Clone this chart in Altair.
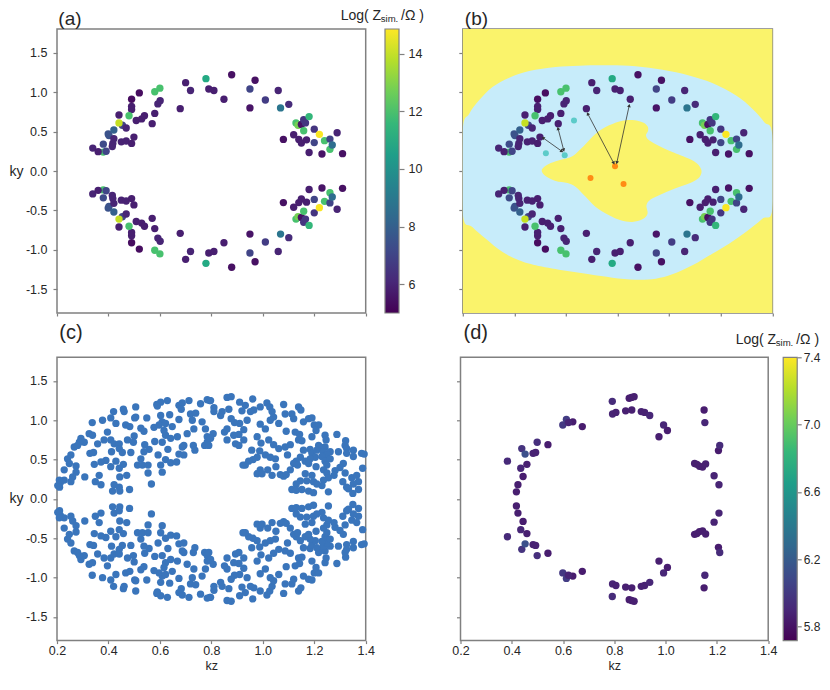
import altair as alt
import pandas as pd

FONT = 'Liberation Sans'
GREY = '#808080'
INK = '#262626'
DOT = 54

# panel (a) and (b): same points
a_kz = [.380, .339, .360, .380, .391, .399, .402, .421, .421, .417, .415, .441, .454, .469, .450, .469, .490, .499,
        .490, .490, .490, .520, .480, .508, .529, .540, .570, .580, .592, .601, .580, .600, .679, .700, .719, .779,
        .790, .810, .849, .879, .950, .950, .970, 1.010, 1.060, 1.069, 1.101, 1.080, 1.120, 1.129, 1.137, 1.150,
        1.159, 1.166, 1.159, 1.180, 1.200, 1.200, 1.240, 1.261, 1.261, 1.270, 1.289, 1.310, 1.230, 1.180, 1.140,
        1.150, 1.170, .441, 1.220]
a_ky_top = [.24, .29, .245, .34, .25, .47, .45, .52, .41, .35, .31, .71, .58, .545, .37, .38, .35, .43,
            .91, .82, .78, .99, .70, .64, .66, .70, .60, .73, .85, .89, 1.005, 1.05, .79, 1.12, 1.02, 1.17,
            1.04, 1.02, .91, 1.22, .80, 1.04, 1.15, .90, 1.02, .80, .845, .40, .46, .61, .58, .59,
            .65, .61, .51, .69, .53, .36, .385, .405, .275, .33, .485, .22, .215, .235, .40,
            .355, .395, .61, .465]
a_ky_bottom = [-.24, -.29, -.245, -.34, -.25, -.47, -.45, -.52, -.41, -.35, -.31, -.71, -.58, -.545, -.37, -.38, -.35, -.43,
               -.91, -.82, -.78, -.99, -.70, -.64, -.66, -.70, -.60, -.73, -.85, -.89, -1.005, -1.05, -.79, -1.12, -1.02, -1.17,
               -1.04, -1.02, -.91, -1.22, -.80, -1.04, -1.15, -.90, -1.02, -.80, -.845, -.40, -.46, -.61, -.58, -.59,
               -.65, -.61, -.51, -.69, -.53, -.36, -.385, -.405, -.275, -.33, -.485, -.22, -.215, -.235, -.40,
               -.355, -.395, -.61, -.465]
a_z = [12, 6.0, 5.8, 7.2, 7, 7.5, 7.5, 8, 6, 6, 6, 5.8, 7, 6, 5.9, 5.9, 5.8, 5.8,
       5.3, 5.8, 5.8, 5.3, 12, 5.8, 5.8, 5.8, 5.8, 5.8, 6, 6, 12, 12, 5.8, 5.8, 6, 11,
       5.8, 5.8, 5.8, 5.4, 5.5, 7, 5.4, 6.7, 6, 8.8, 6.2, 5.4, 5.8, 12, 12.8, 5.4,
       6.5, 6.5, 12, 11.5, 6.5, 7, 12, 7, 12, 8.5, 6, 5.4, 5.5, 5.8, 5.8,
       5.8, 5.8, 14, 14.8]

# extra points of (b)
b_teal_kz = [.631, .522, .595]
b_teal_ky = [.64, .225, .20]
b_orange_kz = [.790, .695, .823]
b_orange_ky = [.06, -.09, -.165]
arrow_kz = [.684, .845, .511, .569]
arrow_ky = [.727, .83, .42, .54]
arrow_kz2 = [.785, .797, .584, .591]
arrow_ky2 = [.10, .105, .25, .265]
arrow_angle = [332, 12, 305, 345]
arrow_angle2 = [152, 192, 125, 165]

# region outlines of (b)
outer_kz = [.2, .225, .263, .315, .380, .457, .560, .651, .767, .870, .974, 1.077, 1.167, 1.258, 1.322, 1.368, 1.4,
            1.4, 1.361, 1.297, 1.232, 1.167, 1.090, 1.012, .948, .870, .780, .690, .586, .483, .418, .354, .289, .237, .2]
outer_ky = [.515, .727, .896, 1.065, 1.183, 1.267, 1.318, 1.335, 1.339, 1.327, 1.284, 1.212, 1.115, .959, .790, .621, .452,
            -.477, -.604, -.773, -.921, -1.048, -1.196, -1.310, -1.365, -1.377, -1.352, -1.310, -1.259, -1.196, -1.132, -1.027, -.858, -.710, -.541]
inner_kz = [.506, .515, .541, .580, .612, .638, .677, .715, .767, .819, .857, .896, .916, .918, .910, .922, .961, 1.012, 1.077,
            1.109, 1.125, 1.118, 1.090, 1.038, .974, .929, .912, .916, .896, .857, .812, .767, .715, .677, .638, .606, .560, .522]
inner_ky = [0, .05, .10, .144, .169, .22, .346, .473, .579, .638, .646, .617, .566, .507, .452, .389, .317, .241, .156,
            .093, .008, -.076, -.139, -.203, -.287, -.359, -.435, -.541, -.613, -.646, -.625, -.562, -.456, -.330, -.203, -.152, -.127, -.068]

# panel (c)
c_kz = [.210, .213, .228, .203, .209, .228, .241, .254, .248, .274, .274, .261, .254, .308, .337, .377, .420, .409, .429, .458,
        .461, .506, .502, .506, .549, .467, .483, .526, .538, .396, .325, .338, .293, .306, .287, .267, .280, .358, .383, .409,
        .422, .442, .474, .500, .497, .442, .454, .487, .541, .558, .538, .580, .593, .526, .513, .532, .554, .554, .567, .603,
        .609, .622, .642, .665, .674, .693, .631, .609, .622, .642, .668, .693, .687, .730, .736, .774, .784, .412, .390, .371,
        .429, .458, .442, .409, .471, .444, .364, .349, .371, .422, .442, .416, .444, .482, .345, .328, .342, .588, .603, .629,
        .590, .674, .687, .713, .683, .758, .784, .794, .603, .609, .597, .577, .638, .674, .719, .739, .726, .764, .777, .732,
        .706, .648, .622, .616, .784, .790, .861, .877, .961, .910, .932, .919, .868, .842, .836, .810, .810, .797, .965, .990,
        1.016, 1.027, 1.081, 1.036, 1.042, 1.087, 1.113, 1.139, 1.148, 1.120, 1.062, 1.029, .952, .939, .910, .890, .877, .926, .907, .861,
        .851, .887, .861, .894, .926, .907, .807, .797, .990, 1.010, .978, .993, 1.023, 1.042, 1.062, 1.107, 1.087, 1.096, .957, .988,
        1.010, 1.029, 1.049, .978, .962, .945, .932, .923, 1.051, 1.019, .990, .978, .997, 1.036, 1.068, 1.081, 1.091, 1.107, 1.091, 1.126,
        1.143, 1.139, 1.152, 1.191, 1.158, 1.178, 1.191, 1.200, 1.217, 1.207, 1.242, 1.246, 1.288, 1.322, 1.320, 1.326, 1.242, 1.217, 1.230, 1.184,
        1.158, 1.191, 1.210, 1.236, 1.262, 1.249, 1.230, 1.204, 1.184, 1.146, 1.130, 1.120, 1.135, 1.165, 1.178, 1.207, 1.242, 1.262, 1.249, 1.294,
        1.326, 1.352, 1.352, 1.384, 1.394, 1.313, 1.300, 1.320, 1.388, 1.236, 1.249, 1.281, 1.277, 1.255, 1.236, 1.230, 1.165, 1.191, 1.171, 1.197,
        1.210, 1.146, 1.130, 1.113, 1.130, 1.152, 1.178, 1.197, 1.255, 1.311, 1.326, 1.346, 1.365, 1.372, 1.352, 1.333, 1.372, 1.350]
c_ky_top = [.15, .21, .24, .17, .24, .37, .51, .56, .45, .42, .34, .28, .22, .28, .97, 1.00, 1.11, 1.03, .96, 1.14,
            1.11, 1.17, 1.03, 1.04, 1.03, .94, .92, .90, .86, .85, .83, .81, .77, .72, .72, .66, .68, .70, .75, .75,
            .70, .70, .75, .80, .72, .64, .59, .59, .69, .63, .60, .73, .56, .51, .43, .43, .43, .33, .19, .43,
            .34, .50, .46, .47, .57, .56, .63, .72, .81, .77, .79, .68, .66, .68, .62, .68, .72, .60, .49, .47,
            .48, .44, .39, .41, .30, .28, .30, .22, .18, .18, .15, .10, .10, .12, .44, .58, .59, 1.20, 1.23, 1.25,
            1.18, 1.19, 1.22, 1.25, 1.14, 1.21, 1.26, 1.25, 1.06, .98, .94, .91, 1.07, 1.01, 1.08, 1.09, 1.00, .98, .89, .89,
            .83, .92, .96, .87, .79, .68, 1.29, 1.30, 1.27, 1.23, 1.19, 1.12, 1.14, 1.11, 1.06, 1.16, 1.11, 1.25, 1.13, 1.17,
            1.22, 1.17, 1.20, 1.11, 1.04, 1.08, 1.08, 1.17, 1.13, 1.02, .96, 1.00, 1.11, 1.00, .96, .97, 1.02, .88, .82, .89,
            .85, .81, .75, .70, .75, .68, .83, .77, .95, .89, .79, .71, .75, .69, .64, .69, .66, .56, .62, .61,
            .56, .53, .51, .53, .50, .48, .43, .43, .41, .37, .37, .32, .32, .30, .31, .29, .31, .37, .86, .85,
            .82, .75, .74, .79, .98, 1.02, 1.03, .94, .94, .87, .81, .75, .82, .74, .68, .64, .66, .68, .65, .63,
            .62, .58, .62, .60, .60, .56, .54, .53, .51, .53, .48, .45, .43, .48, .45, .41, .48, .51, .43, .60,
            .58, .62, .54, .58, .57, .45, .40, .33, .39, .37, .33, .36, .30, .27, .24, .17, .32, .30, .23, .22,
            .19, .23, .19, .12, .11, .12, .10, .08, .09, .22, .15, .27, .30, .22, .19, .13, .12, .07]
c_ky_bottom = [-.15, -.21, -.24, -.17, -.24, -.37, -.51, -.56, -.45, -.42, -.34, -.28, -.22, -.28, -.97, -1.00, -1.11, -1.03, -.96, -1.14,
               -1.11, -1.17, -1.03, -1.04, -1.03, -.94, -.92, -.90, -.86, -.85, -.83, -.81, -.77, -.72, -.72, -.66, -.68, -.70, -.75, -.75,
               -.70, -.70, -.75, -.80, -.72, -.64, -.59, -.59, -.69, -.63, -.60, -.73, -.56, -.51, -.43, -.43, -.43, -.33, -.19, -.43,
               -.34, -.50, -.46, -.47, -.57, -.56, -.63, -.72, -.81, -.77, -.79, -.68, -.66, -.68, -.62, -.68, -.72, -.60, -.49, -.47,
               -.48, -.44, -.39, -.41, -.30, -.28, -.30, -.22, -.18, -.18, -.15, -.10, -.10, -.12, -.44, -.58, -.59, -1.20, -1.23, -1.25,
               -1.18, -1.19, -1.22, -1.25, -1.14, -1.21, -1.26, -1.25, -1.06, -.98, -.94, -.91, -1.07, -1.01, -1.08, -1.09, -1.00, -.98, -.89, -.89,
               -.83, -.92, -.96, -.87, -.79, -.68, -1.29, -1.30, -1.27, -1.23, -1.19, -1.12, -1.14, -1.11, -1.06, -1.16, -1.11, -1.25, -1.13, -1.17,
               -1.22, -1.17, -1.20, -1.11, -1.04, -1.08, -1.08, -1.17, -1.13, -1.02, -.96, -1.00, -1.11, -1.00, -.96, -.97, -1.02, -.88, -.82, -.89,
               -.85, -.81, -.75, -.70, -.75, -.68, -.83, -.77, -.95, -.89, -.79, -.71, -.75, -.69, -.64, -.69, -.66, -.56, -.62, -.61,
               -.56, -.53, -.51, -.53, -.50, -.48, -.43, -.43, -.41, -.37, -.37, -.32, -.32, -.30, -.31, -.29, -.31, -.37, -.86, -.85,
               -.82, -.75, -.74, -.79, -.98, -1.02, -1.03, -.94, -.94, -.87, -.81, -.75, -.82, -.74, -.68, -.64, -.66, -.68, -.65, -.63,
               -.62, -.58, -.62, -.60, -.60, -.56, -.54, -.53, -.51, -.53, -.48, -.45, -.43, -.48, -.45, -.41, -.48, -.51, -.43, -.60,
               -.58, -.62, -.54, -.58, -.57, -.45, -.40, -.33, -.39, -.37, -.33, -.36, -.30, -.27, -.24, -.17, -.32, -.30, -.23, -.22,
               -.19, -.23, -.19, -.12, -.11, -.12, -.10, -.08, -.09, -.22, -.15, -.27, -.30, -.22, -.19, -.13, -.12, -.07]

# panel (d)
d_kz = [.383, .439, .483, .493, .499, .541, .435, .459, .444, .424, .418, .599, .613, .638, .621, .675, .792, .858, .867, .877,
        .793, .806, .844, .868, .905, .918, .938, .992, 1.007, .974, 1.150, 1.153, 1.206, 1.211, 1.113, 1.122, 1.132, 1.144,
        1.156, 1.189, 1.208, .452]
d_ky_top = [.48, .64, .58, .59, .72, .69, .39, .44, .285, .18, .09, .94, 1.01, .98, .97, .92, 1.24, 1.28, 1.29, 1.30,
            1.08, 1.10, 1.12, 1.13, 1.11, 1.10, 1.06, .94, .87, .79, 1.13, .97, .615, .68, .45, .44, .415, .405,
            .445, .295, .18, .57]
d_ky_bottom = [-.48, -.64, -.58, -.59, -.72, -.69, -.39, -.44, -.285, -.18, -.09, -.94, -1.01, -.98, -.97, -.92, -1.24, -1.28, -1.29, -1.30,
               -1.08, -1.10, -1.12, -1.13, -1.11, -1.10, -1.06, -.94, -.87, -.79, -1.13, -.97, -.615, -.68, -.45, -.44, -.415, -.405,
               -.445, -.295, -.18, -.57]
d_z = [6.15, 6.45, 5.9, 5.9, 6.3, 5.75, 6.05, 5.85, 5.75, 5.8, 5.8, 6.6, 6.75, 5.75, 6.0, 5.72, 6.2, 5.75, 5.8, 5.85,
       6.0, 5.9, 5.85, 5.85, 5.9, 5.9, 6.05, 6.05, 5.75, 5.8, 5.75, 6.05, 5.72, 6.2, 5.8, 5.8, 5.8, 5.8,
       5.85, 5.95, 6.0, 7.4]

kz_ticks = [0.2, 0.4, 0.6, 0.8, 1.0, 1.2, 1.4]
ky_ticks = [-1.5, -1.0, -0.5, 0.0, 0.5, 1.0, 1.5]
a_bar_ticks = [6, 8, 10, 12, 14]
d_bar_ticks = [5.8, 6.2, 6.6, 7.0, 7.4]
a_range = [5.0, 14.85]
d_range = [5.715, 7.4]
viridis = ['#440154', '#482878', '#3e4989', '#31688e', '#26828e', '#1f9e89', '#35b779', '#6ece58', '#b5de2b', '#fde725']

YELLOW = '#faf36b'
BLUE = '#c7ecfa'


def x_enc(labels, title=None):
    return alt.X('kz:Q', scale=alt.Scale(domain=[0.2, 1.4], nice=False, zero=False),
                 axis=alt.Axis(values=kz_ticks, labels=labels, format='.1f', title=title, grid=False, domain=False,
                               labelFlush=False, tickSize=3, labelPadding=1, titleY=28.5, titleBaseline='alphabetic',
                               titleFontSize=12.5))


def y_enc(labels, title_y=142):
    if labels:
        ax = alt.Axis(values=ky_ticks, labelExpr="replace(format(datum.value, '.1f'), '−', '-')", title='ky', titleAngle=0,
                      titleX=-48, titleY=title_y, titleAlign='left', titleBaseline='middle', grid=False, domain=False,
                      labelPadding=6)
    else:
        ax = alt.Axis(values=ky_ticks, labels=False, title=None, grid=False, domain=False)
    return alt.Y('ky:Q', scale=alt.Scale(domain=[-1.8, 1.8], nice=False, zero=False), axis=ax)


def note(text, x, y, size):
    return alt.Chart(pd.DataFrame({'t': [text]})).mark_text(
        text=text, align='left', baseline='alphabetic', fontSize=size, font=FONT, color=INK
    ).encode(x=alt.value(x), y=alt.value(y))


def colorbar(rng, ticks, fmt, left, offset, tick=5, pad=4, size=12.5):
    df = pd.DataFrame({'lo': [rng[0]], 'hi': [rng[1]]})
    fill = alt.LinearGradient(gradient='linear', x1=0, x2=0, y1=1, y2=0,
                              stops=[alt.GradientStop(offset=i / (len(viridis) - 1), color=c) for i, c in enumerate(viridis)])
    return alt.Chart(df).mark_rect(fill=fill, stroke=GREY, strokeWidth=1.2).encode(
        x=alt.value(left), x2=alt.value(left + 14),
        y=alt.Y('lo:Q', scale=alt.Scale(domain=rng, nice=False, zero=False),
                axis=alt.Axis(values=ticks, format=fmt, orient='right', offset=offset, title=None, grid=False, domain=False,
                              labelFlush=False, tickSize=tick, labelPadding=pad, labelFontSize=size)),
        y2='hi:Q',
    )


df_a = pd.DataFrame({'kz': a_kz + a_kz, 'ky': a_ky_top + a_ky_bottom, 'z': a_z + a_z})
color_a = alt.Color('z:Q', scale=alt.Scale(scheme='viridis', domain=a_range), legend=None)

a = alt.layer(
    alt.Chart(df_a).mark_circle(size=DOT, opacity=1).encode(x=x_enc(False), y=y_enc(True), color=color_a),
    colorbar(a_range, a_bar_ticks, 'd', 328, 33.3),
    note('(a)', 1.3, -3.7, 19),
    note('Log( Z', 283.7, -8.7, 14),
    note('sim.', 323.7, -6.7, 9.6),
    note('/Ω )', 344, -8.7, 14),
).resolve_scale(y='independent').properties(width=308.7, height=284)

b_bg = alt.Chart(pd.DataFrame({'kz': [0.2], 'kz2': [1.4], 'ky': [-1.8], 'ky2': [1.8]})).mark_rect(color=YELLOW).encode(
    x=x_enc(False), x2='kz2:Q', y=y_enc(False), y2='ky2:Q')
df_outer = pd.DataFrame({'kz': outer_kz, 'ky': outer_ky, 'n': range(len(outer_kz))})
df_inner = pd.DataFrame({'kz': inner_kz, 'ky': inner_ky, 'n': range(len(inner_kz))})
b_outer = alt.Chart(df_outer).mark_line(fill=BLUE, stroke=BLUE, strokeWidth=0, interpolate='cardinal-closed', clip=True).encode(
    x=x_enc(False), y=y_enc(False), order='n:Q')
b_inner = alt.Chart(df_inner).mark_line(fill=YELLOW, stroke=YELLOW, strokeWidth=0, interpolate='cardinal-closed', clip=True).encode(
    x=x_enc(False), y=y_enc(False), order='n:Q')
b_dots = alt.Chart(df_a).mark_circle(size=DOT, opacity=1).encode(x=x_enc(False), y=y_enc(False), color=color_a)
b_teal = alt.Chart(pd.DataFrame({'kz': b_teal_kz, 'ky': b_teal_ky})).mark_circle(size=36, opacity=1, color='#5ccbc9').encode(
    x=x_enc(False), y=y_enc(False))
b_orange = alt.Chart(pd.DataFrame({'kz': b_orange_kz, 'ky': b_orange_ky})).mark_circle(size=36, opacity=1, color='#ff8c14').encode(
    x=x_enc(False), y=y_enc(False))
df_arrow = pd.DataFrame({'kz': arrow_kz, 'ky': arrow_ky, 'kz2': arrow_kz2, 'ky2': arrow_ky2})
b_rules = alt.Chart(df_arrow).mark_rule(color='#333333', strokeWidth=0.8).encode(
    x=x_enc(False), y=y_enc(False), x2='kz2:Q', y2='ky2:Q')
df_heads = pd.DataFrame({'kz': arrow_kz + arrow_kz2, 'ky': arrow_ky + arrow_ky2, 'ang': arrow_angle + arrow_angle2})
b_heads = alt.Chart(df_heads).mark_point(shape='triangle-up', filled=True, size=14, opacity=1, color='#333333').encode(
    x=x_enc(False), y=y_enc(False), angle=alt.Angle('ang:Q', scale=None))

b = alt.layer(
    b_bg, b_outer, b_inner, b_dots, b_teal, b_orange, b_rules, b_heads,
    note('(b)', 2, -3.7, 19),
).properties(width=309.6, height=284)

df_c = pd.DataFrame({'kz': c_kz + c_kz, 'ky': c_ky_top + c_ky_bottom})
c = alt.layer(
    alt.Chart(df_c).mark_circle(size=DOT, opacity=1, color='#3a75bb').encode(x=x_enc(True, 'kz'), y=y_enc(True, 141)),
    note('(c)', 2.3, -18, 20),
).properties(width=308.7, height=283.3)

df_d = pd.DataFrame({'kz': d_kz + d_kz, 'ky': d_ky_top + d_ky_bottom, 'z': d_z + d_z})
d = alt.layer(
    alt.Chart(df_d).mark_circle(size=DOT, opacity=1).encode(
        x=x_enc(True, 'kz'), y=y_enc(False),
        color=alt.Color('z:Q', scale=alt.Scale(scheme='viridis', domain=d_range), legend=None)),
    colorbar(d_range, d_bar_ticks, '.1f', 322.7, 29, tick=4, pad=2, size=12),
    note('(d)', 3, -18, 20),
    note('Log( Z', 275.2, -13, 14),
    note('sim.', 315.2, -11, 9.6),
    note('/Ω )', 335.7, -13, 14),
).resolve_scale(y='independent').properties(width=307.7, height=283.3)

row1 = alt.hconcat(a, b, spacing=31.8)
row2 = alt.hconcat(c, d, spacing=74.5)

chart = alt.concat(row1, row2, columns=1, spacing=4.3, align='none', padding=0, background='white').configure_view(
    stroke=GREY, strokeWidth=1.5
).configure_axis(
    tickColor=GREY, tickSize=4, tickWidth=1.2, labelFont=FONT, labelFontSize=12.5, labelColor=INK,
    titleFont=FONT, titleFontSize=14, titleFontWeight='normal', titleColor=INK
)

chart.save("out.html", embed_options={"renderer": "svg", "actions": False})
